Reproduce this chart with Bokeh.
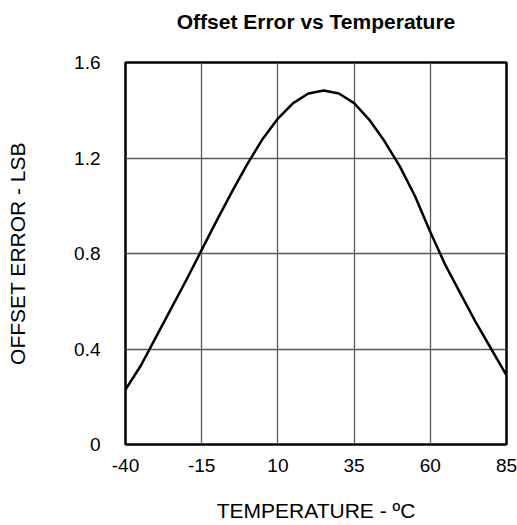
from bokeh.plotting import figure
from bokeh.models import FixedTicker, LinearAxis
from bokeh.embed import file_html
from bokeh.resources import INLINE

temps = [-40, -35, -30, -25, -20, -15, -10, -5, 0, 5, 10, 15, 20, 25, 30, 35,
         40, 45, 50, 55, 60, 65, 70, 75, 80, 85]
offset_err = [0.23, 0.33, 0.45, 0.57, 0.69, 0.815, 0.94, 1.06, 1.175, 1.28,
              1.365, 1.43, 1.47, 1.483, 1.47, 1.43, 1.36, 1.27, 1.165, 1.04,
              0.89, 0.75, 0.63, 0.51, 0.40, 0.29]
x_ticks = [-40, -15, 10, 35, 60, 85]
x_labels = ["-40", "-15", "10", "35", "60", "85"]
y_ticks = [0, 0.4, 0.8, 1.2, 1.6]
y_labels = ["0", "0.4", "0.8", "1.2", "1.6"]
title_text = "Offset Error vs Temperature"

FONT = "Liberation Sans"

p = figure(width=517, height=525, output_backend="svg", toolbar_location=None,
           x_range=(-40, 85), y_range=(0, 1.6),
           min_border_left=125, min_border_right=11,
           min_border_top=62, min_border_bottom=81)

bottom_axis = p.below[0]
left_axis = p.left[0]

bottom_axis.ticker = FixedTicker(ticks=x_ticks)
left_axis.ticker = FixedTicker(ticks=y_ticks)
bottom_axis.major_label_overrides = dict(zip(x_ticks, x_labels))
left_axis.major_label_overrides = dict(zip(y_ticks, y_labels))
p.xgrid.ticker = FixedTicker(ticks=x_ticks)
p.ygrid.ticker = FixedTicker(ticks=y_ticks)

# title drawn as the label of a tick-less axis above the frame
top_axis = LinearAxis(ticker=FixedTicker(ticks=[]), axis_label=title_text,
                      axis_line_color=None, major_tick_line_color=None,
                      minor_tick_line_color=None, major_tick_out=0,
                      major_tick_in=0, major_label_standoff=0,
                      axis_label_text_font=FONT,
                      axis_label_text_font_size="21px",
                      axis_label_text_font_style="bold",
                      axis_label_text_color="black",
                      axis_label_standoff=30)
p.add_layout(top_axis, "above")

p.line(temps, offset_err, line_color="black", line_width=2.5)

for ax in (bottom_axis, left_axis):
    ax.axis_line_color = None
    ax.major_tick_line_color = None
    ax.minor_tick_line_color = None
    ax.major_tick_out = 0
    ax.major_tick_in = 0
    ax.major_label_text_font = FONT
    ax.major_label_text_font_size = "19px"
    ax.major_label_text_color = "black"
    ax.axis_label_text_font = FONT
    ax.axis_label_text_font_size = "21px"
    ax.axis_label_text_font_style = "normal"
    ax.axis_label_text_color = "black"

bottom_axis.axis_label = "TEMPERATURE - ºC"
left_axis.axis_label = "OFFSET ERROR - LSB"
bottom_axis.major_label_standoff = 14
left_axis.major_label_standoff = 25
bottom_axis.axis_label_standoff = 24
left_axis.axis_label_standoff = 42

p.xgrid.grid_line_color = "#5a5a5a"
p.ygrid.grid_line_color = "#5a5a5a"
p.xgrid.grid_line_width = 1.3
p.ygrid.grid_line_width = 1.3

p.outline_line_color = "black"
p.outline_line_width = 2.5
p.outline_line_alpha = 1.0
p.background_fill_color = "white"
p.border_fill_color = "white"

open("out.html", "w").write(file_html(p, INLINE))
